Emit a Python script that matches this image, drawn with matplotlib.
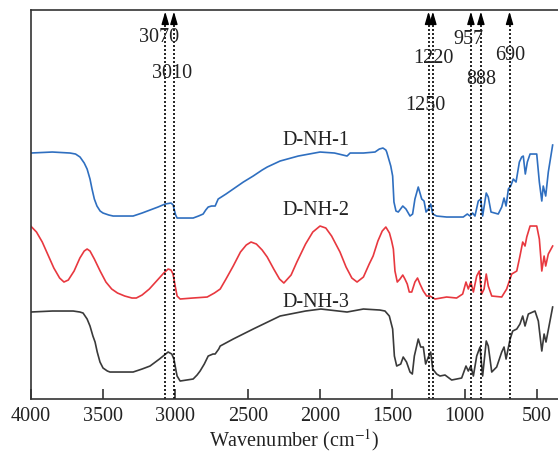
import numpy as np
import matplotlib.pyplot as plt

plt.rcParams["font.family"] = ["Liberation Serif", "DejaVu Serif"]
plt.rcParams["mathtext.fontset"] = "stix"

# wavenumber (cm-1) and transmittance (a.u., offset)
wn_1 = [4000, 3850, 3728, 3690, 3659, 3630, 3610, 3590, 3576, 3560, 3542, 3520,
        3500, 3460, 3430, 3350, 3292, 3230, 3175, 3120, 3071, 3030, 3015, 3009,
        2998, 2988, 2877, 2840, 2808, 2790, 2773, 2750, 2725, 2704, 2650, 2600,
        2530, 2462, 2400, 2365, 2276, 2150, 2000, 1900, 1813, 1792, 1700, 1620,
        1590, 1565, 1545, 1539, 1511, 1498, 1489, 1475, 1459, 1428, 1406, 1378,
        1360, 1344, 1321, 1297, 1281, 1267, 1251, 1235, 1221, 1194, 1125, 1010,
        982, 963, 945, 929, 906, 889, 876, 851, 837, 818, 768, 744, 728, 714,
        698, 682, 664, 645, 622, 606, 595, 581, 567, 548, 502, 484, 467, 457,
        440, 422, 392]
t_1 = [246, 247, 246, 245, 242, 236, 230, 220, 210, 200, 193, 188,
       186, 184, 183, 183, 183, 186, 189, 192, 195, 196, 194, 190,
       184, 181, 181, 183, 185, 189, 192, 193, 193, 200, 205, 210,
       217, 223, 229, 232, 238, 243, 247, 246, 243, 246, 246, 247,
       250, 251, 249, 247, 233, 223, 197, 188, 187, 193, 190, 183,
       185, 200, 212, 200, 198, 187, 190, 195, 185, 183, 182, 182,
       185, 183, 186, 183, 198, 200, 183, 206, 202, 187, 185, 192, 201, 193,
       210, 213, 220, 217, 237, 242, 243, 225, 237, 245, 245, 217, 198, 213,
       203, 227, 254]

wn_2 = [4000, 3960, 3920, 3880, 3840, 3800, 3770, 3740, 3700, 3660, 3630, 3610,
        3590, 3560, 3520, 3480, 3440, 3400, 3350, 3300, 3270, 3230, 3180, 3130,
        3080, 3050, 3030, 3016, 3000, 2988, 2967, 2880, 2780, 2730, 2690, 2650,
        2600, 2550, 2510, 2477, 2440, 2400, 2365, 2320, 2280, 2250, 2200, 2160,
        2100, 2050, 2000, 1960, 1920, 1862, 1820, 1780, 1744, 1700, 1660, 1633,
        1600, 1570, 1545, 1520, 1505, 1493, 1482, 1466, 1447, 1428, 1413, 1397,
        1383, 1366, 1344, 1326, 1309, 1286, 1263, 1240, 1205, 1125, 1056, 1014,
        991, 975, 958, 940, 917, 899, 883, 866, 851, 837, 813, 744, 710, 675,
        640, 618, 599, 583, 571, 548, 502, 484, 473, 467, 451, 440, 422, 392]
t_2 = [173, 167, 157, 144, 131, 121, 117, 119, 128, 141, 148, 150,
       148, 140, 128, 117, 110, 106, 103, 101, 101, 104, 110, 118,
       126, 130, 129, 125, 112, 103, 100, 101, 102, 106, 110, 120,
       133, 147, 154, 157, 155, 149, 142, 130, 120, 116, 124, 137,
       155, 167, 173, 171, 163, 147, 132, 121, 117, 122, 135, 143,
       158, 168, 172, 166, 158, 150, 128, 117, 120, 124, 120, 115,
       107, 107, 117, 121, 115, 108, 103, 103, 100, 102, 101, 105,
       117, 110, 117, 107, 123, 128, 105, 110, 125, 113, 103, 102, 110, 125,
       128, 143, 157, 153, 162, 173, 173, 160, 140, 128, 143, 133, 145, 153]

wn_3 = [4000, 3850, 3706, 3660, 3638, 3610, 3590, 3570, 3555, 3540, 3521, 3500,
        3470, 3452, 3350, 3292, 3230, 3175, 3110, 3050, 3025, 3010, 2995, 2988,
        2967, 2877, 2850, 2829, 2800, 2773, 2740, 2725, 2700, 2690, 2600, 2462,
        2276, 2100, 1994, 1813, 1700, 1587, 1551, 1521, 1498, 1486, 1470, 1442,
        1425, 1402, 1378, 1362, 1348, 1332, 1321, 1304, 1286, 1270, 1251, 1235,
        1221, 1194, 1171, 1136, 1090, 1021, 991, 975, 958, 940, 917, 894, 876,
        851, 837, 813, 779, 744, 728, 714, 686, 668, 640, 618, 599, 583, 560,
        514, 491, 467, 451, 438, 392]
t_3 = [87, 88, 88, 87, 86, 80, 73, 63, 57, 47, 37, 31,
       28, 27, 27, 27, 30, 33, 40, 47, 45, 40, 28, 23,
       18, 20, 24, 28, 35, 43, 45, 45, 50, 53, 60, 70,
       83, 88, 90, 87, 90, 89, 88, 83, 70, 43, 33, 35,
       42, 37, 27, 25, 43, 53, 60, 52, 52, 35, 42, 47,
       30, 25, 23, 24, 19, 21, 33, 28, 33, 23, 43, 52, 23,
       58, 53, 27, 32, 47, 52, 40, 60, 68, 70, 75, 83, 73, 85,
       88, 78, 48, 65, 57, 92]

names = ["D-NH-1", "D-NH-2", "D-NH-3"]
colors = ["#2f6fc0", "#e8383f", "#3a3a3a"]
name_pos = [(2030, 260), (2030, 190), (2030, 98)]

peaks = [3070, 3010, 1250, 1220, 957, 888, 690]
peak_labels = ["3070", "3010", "1250", "1220", "957", "888", "690"]
label_pos = [(3113, 363), (3024, 327), (1274, 295), (1218, 342), (977, 361), (887, 321), (687, 345)]

fig = plt.figure(figsize=(5.58, 4.52), dpi=100)
ax = fig.add_axes([0.055, 0.115, 0.945, 0.8606])

for wn, t, c in zip([wn_1, wn_2, wn_3], [t_1, t_2, t_3], colors):
    ax.plot(wn, t, color=c, lw=1.2)

for name, (x, y) in zip(names, name_pos):
    ax.text(x, y, name, fontsize=14.5, ha="center", va="center", color="#222222")

top = 389
for p in peaks:
    ax.plot([p, p], [0, top - 12], color="black", lw=1.2, ls=(0, (1.2, 1.2)))
    ax.annotate("", xy=(p, top - 1.5), xytext=(p, top - 13),
                arrowprops=dict(arrowstyle="-|>,head_length=0.75,head_width=0.22",
                                color="black", lw=1.0, shrinkA=0, shrinkB=0))

for lab, (x, y) in zip(peak_labels, label_pos):
    ax.text(x, y, lab, fontsize=14.5, ha="center", va="center", color="#222222")

ax.set_xlim(4000, 355)
ax.set_ylim(0, 389)
ax.set_xticks([4000, 3500, 3000, 2500, 2000, 1500, 1000, 500])
ax.set_yticks([])
ax.tick_params(axis="x", direction="in", length=7, width=1.1, labelsize=14.5,
               pad=5, colors="#222222")
ax.set_xlabel("Wavenumber (cm$^{-1}$)", fontsize=14.5, labelpad=1, color="#222222")
for s in ["left", "bottom", "top"]:
    ax.spines[s].set_linewidth(1.2)
    ax.spines[s].set_color("#333333")
ax.spines["right"].set_visible(False)

fig.savefig("out.png", dpi=100)
